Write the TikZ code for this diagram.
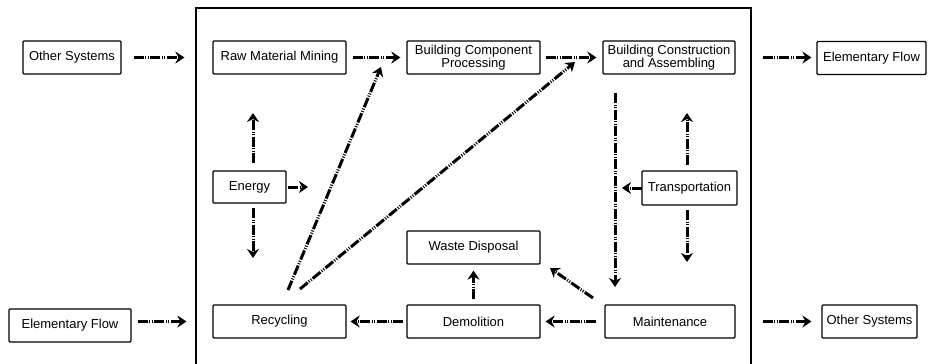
\documentclass[tikz,border=0pt]{standalone}
\usepackage{fontspec}
\setmainfont{Liberation Sans}
\usetikzlibrary{arrows.meta}
\begin{document}
\begin{tikzpicture}[x=1pt,y=-1pt,
  box/.style={draw, line width=1.2pt, rounded corners=1pt, inner sep=0pt,
    align=center, font=\fontsize{13}{11.5}\selectfont, minimum height=33pt},
  flow/.style={line width=3pt,
    dash pattern=on 10pt off 1.5pt on 1pt off 1.5pt on 1pt off 1.5pt,
    -{Stealth[length=9pt,width=12pt,inset=3pt]}}]
\useasboundingbox (0,0) rectangle (930,364);

% system boundary (open at the bottom)
\draw[line width=1.4pt] (196,380) -- (196,8) -- (751,8) -- (751,380);

% processes
\node[box, minimum width=98pt]  (os1)  at (72,57.5)    {Other Systems};
\node[box, minimum width=133pt] (raw)  at (279.5,57.5) {Raw Material Mining};
\node[box, minimum width=133pt] (bcp)  at (473.5,57.5) {Building Component\\Processing};
\node[box, minimum width=132pt] (bca)  at (669,57.5)   {Building Construction\\and Assembling};
\node[box, minimum width=109pt] (ef1)  at (871.5,58)   {Elementary Flow};
\node[box, minimum width=73pt, minimum height=32pt] (energy) at (249.5,187) {Energy};
\node[box, minimum width=95pt, minimum height=34pt] (trans)  at (689.5,188) {Transportation};
\node[box, minimum width=133pt] (waste) at (473.5,247.5) {Waste Disposal};
\node[box, minimum width=122pt] (ef2)  at (70,325.5)   {Elementary Flow};
\node[box, minimum width=133pt] (rec)  at (279.5,321.5) {Recycling};
\node[box, minimum width=133pt] (dem)  at (473.5,321.5) {Demolition};
\node[box, minimum width=130pt] (mnt)  at (670,321.5)  {Maintenance};
\node[box, minimum width=95pt]  (os2)  at (869.5,321.5) {Other Systems};

% free ends of the flows
\coordinate (eU0) at (253,163); \coordinate (eU1) at (253,113);
\coordinate (eD0) at (253,208); \coordinate (eD1) at (253,258);
\coordinate (eR0) at (288,187); \coordinate (eR1) at (308,187);
\coordinate (tU0) at (687,165); \coordinate (tU1) at (687,113);
\coordinate (tD0) at (687,210); \coordinate (tD1) at (687,262);
\coordinate (tL0) at (642,188); \coordinate (tL1) at (622,188);
\coordinate (v0)  at (615,93);  \coordinate (v1)  at (615,287);
\coordinate (mw0) at (593,298); \coordinate (mw1) at (550,268);
\coordinate (d10) at (288,290); \coordinate (d11) at (381,67);
\coordinate (d20) at (300,289); \coordinate (d21) at (575,62);

% horizontal flows
\draw[flow, shorten <=12pt, shorten >=28pt] (os1.east) -- (raw.west);
\draw[flow, shorten <=6pt, shorten >=6pt] (raw.east) -- (bcp.west);
\draw[flow, shorten <=5pt, shorten >=6pt] (bcp.east) -- (bca.west);
\draw[flow, shorten <=27pt, shorten >=5pt] (bca.east) -- (ef1.west |- bca.east);
\draw[flow, shorten <=6pt, shorten >=26pt] (ef2.east |- rec.west) -- (rec.west);
\draw[flow, shorten <=3pt, shorten >=4pt] (dem.west) -- (rec.east);
\draw[flow, shorten <=8pt, shorten >=5pt] (mnt.west) -- (dem.east);
\draw[flow, shorten <=27pt, shorten >=10pt] (mnt.east) -- (os2.west);
\draw[flow, shorten <=5pt, shorten >=6pt] (dem.north) -- (waste.south);

% energy and transport
\draw[flow] (eU0) -- (eU1);
\draw[flow] (eD0) -- (eD1);
\draw[flow] (eR0) -- (eR1);
\draw[flow] (tU0) -- (tU1);
\draw[flow] (tD0) -- (tD1);
\draw[flow] (tL0) -- (tL1);

% remaining flows
\draw[flow] (v0) -- (v1);
\draw[flow] (mw0) -- (mw1);
\draw[flow] (d10) -- (d11);
\draw[flow] (d20) -- (d21);
\end{tikzpicture}
\end{document}
